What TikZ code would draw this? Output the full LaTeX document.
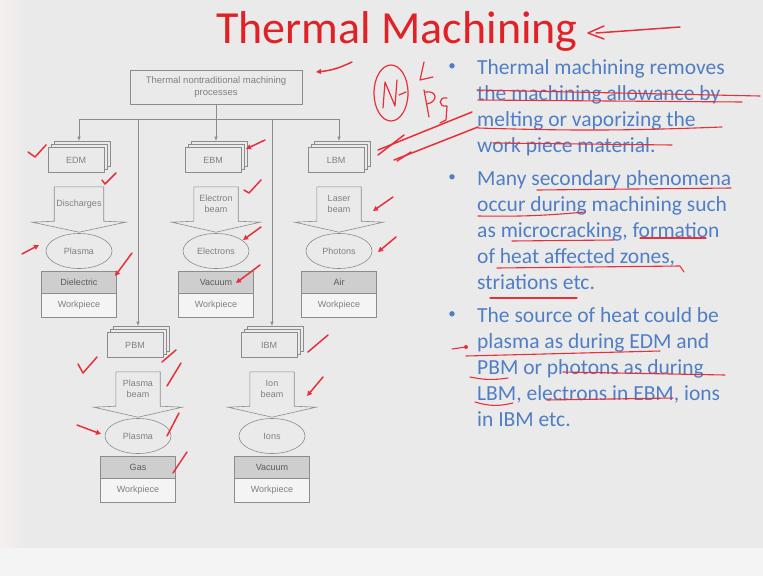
\documentclass[tikz,border=0pt]{standalone}
\usepackage{fontspec}
\setmainfont{Carlito}
\newfontfamily\diagfont{Liberation Sans}
\usetikzlibrary{shapes,calc,shadows,arrows.meta,positioning}

\definecolor{slidebg}{RGB}{234,234,234}
\definecolor{leftbg}{RGB}{244,240,238}
\definecolor{footbg}{RGB}{244,244,244}
\definecolor{titlered}{RGB}{224,34,38}
\definecolor{textblue}{RGB}{80,126,196}
\definecolor{diagline}{RGB}{140,140,140}
\definecolor{diagtext}{RGB}{128,128,128}
\definecolor{mediumfill}{RGB}{206,206,206}
\definecolor{penred}{RGB}{232,48,58}

\tikzset{
  diag/.style={draw=diagline, line width=0.6pt},
  diagfont/.style={font=\diagfont\fontsize{9}{11}\selectfont, text=diagtext},
  procbox/.style={
    diag, diagfont, rectangle,
    fill=slidebg,
    minimum width=172pt,
    minimum height=34pt,
    align=center,
    font=\diagfont\fontsize{9.5}{12}\selectfont
  },
  machbox/.style={
    diag, diagfont, rectangle,
    fill=slidebg,
    minimum width=56pt,
    minimum height=25pt,
    copy shadow={shadow xshift=6pt, shadow yshift=6pt, draw=diagline, fill=slidebg},
    copy shadow={shadow xshift=3pt, shadow yshift=3pt, draw=diagline, fill=slidebg}
  },
  beam/.style={
    diagfont, rectangle,
    minimum width=44pt,
    minimum height=34pt,
    inner sep=2pt,
    align=center
  },
  carrier/.style={
    diag, diagfont, ellipse,
    fill=slidebg,
    minimum width=66pt,
    minimum height=35pt,
    inner sep=0pt
  },
  medium/.style={
    diag, diagfont, rectangle,
    fill=mediumfill,
    text=diagtext!70!black,
    minimum width=75pt,
    minimum height=22pt
  },
  workpiece/.style={
    diag, diagfont, rectangle,
    fill=slidebg!50!white,
    minimum width=75pt,
    minimum height=24pt
  },
  titlenode/.style={
    font=\fontsize{46}{50}\selectfont,
    text=titlered
  },
  bullettext/.style={
    font=\fontsize{21.5}{26}\selectfont,
    text=textblue,
    align=left,
    inner sep=0pt
  },
  bulletdot/.style={
    font=\fontsize{15}{18}\selectfont,
    text=textblue,
    inner sep=0pt
  },
  pen/.style={draw=penred, line width=1.5pt, line cap=round, line join=round},
  penarrow/.style={pen, -{Triangle[length=5pt, width=5pt]}}
}

% outline of a broad down arrow round a beam node
\newcommand{\beamarrow}[1]{%
  \draw[diag] (#1.north west) -- (#1.north east) -- (#1.south east)
    -- ++(22,1) -- ($(#1.south)+(0,11)$) -- ($(#1.south west)+(-22,1)$)
    -- (#1.south west) -- cycle;}

\begin{document}
\begin{tikzpicture}[x=1pt, y=-1pt, >=latex]
  \useasboundingbox (0,0) rectangle (763,576);
  \fill[slidebg] (0,0) rectangle (763,576);
  \shade[left color=leftbg, right color=slidebg] (0,0) rectangle (26,548);
  \fill[footbg] (0,548) rectangle (763,576);

  \node[titlenode] (title) at (397,31) {Thermal Machining};

  %% Process tree
  \node[procbox] (thermal) at (216,87) {Thermal nontraditional machining\\processes};
  \coordinate (dEDM) at (79,119);
  \coordinate (dPBM) at (138,119);
  \coordinate (dIBM) at (272,119);
  \coordinate (dLBM) at (339,119);

  \node[machbox] (edm) at (76,160) {EDM};
  \node[machbox] (ebm) at (213,160) {EBM};
  \node[machbox] (lbm) at (336,160) {LBM};
  \node[machbox] (pbm) at (135,345) {PBM};
  \node[machbox] (ibm) at (269,345) {IBM};

  \draw[diag] (dEDM) -- (dLBM);
  \draw[diag, ->] (thermal.south) -- ($(ebm.north)+(3,-6)$);
  \draw[diag, ->] (dEDM) -- ($(edm.north)+(3,-6)$);
  \draw[diag, ->] (dLBM) -- ($(lbm.north)+(3,-6)$);
  \draw[diag, ->] (dPBM) -- ($(pbm.north)+(3,-6)$);
  \draw[diag, ->] (dIBM) -- ($(ibm.north)+(3,-6)$);

  %% EDM column
  \node[beam, below of=edm, node distance=44pt, xshift=3pt] (edmbeam) {Discharges};
  \beamarrow{edmbeam}
  \node[carrier, below of=edmbeam, node distance=47pt] (edmcarrier) {Plasma};
  \node[medium, below of=edmcarrier, node distance=31pt] (edmmedium) {Dielectric};
  \node[workpiece, below of=edmmedium, node distance=23pt] (edmwork) {Workpiece};

  %% EBM column
  \node[beam, below of=ebm, node distance=44pt, xshift=3pt] (ebmbeam) {Electron\\beam};
  \beamarrow{ebmbeam}
  \node[carrier, below of=ebmbeam, node distance=47pt] (ebmcarrier) {Electrons};
  \node[medium, below of=ebmcarrier, node distance=31pt] (ebmmedium) {Vacuum};
  \node[workpiece, below of=ebmmedium, node distance=23pt] (ebmwork) {Workpiece};

  %% LBM column
  \node[beam, below of=lbm, node distance=44pt, xshift=3pt] (lbmbeam) {Laser\\beam};
  \beamarrow{lbmbeam}
  \node[carrier, below of=lbmbeam, node distance=47pt] (lbmcarrier) {Photons};
  \node[medium, below of=lbmcarrier, node distance=31pt] (lbmmedium) {Air};
  \node[workpiece, below of=lbmmedium, node distance=23pt] (lbmwork) {Workpiece};

  %% PBM column
  \node[beam, below of=pbm, node distance=44pt, xshift=3pt] (pbmbeam) {Plasma\\beam};
  \beamarrow{pbmbeam}
  \node[carrier, below of=pbmbeam, node distance=47pt] (pbmcarrier) {Plasma};
  \node[medium, below of=pbmcarrier, node distance=31pt] (pbmmedium) {Gas};
  \node[workpiece, below of=pbmmedium, node distance=23pt] (pbmwork) {Workpiece};

  %% IBM column
  \node[beam, below of=ibm, node distance=44pt, xshift=3pt] (ibmbeam) {Ion\\beam};
  \beamarrow{ibmbeam}
  \node[carrier, below of=ibmbeam, node distance=47pt] (ibmcarrier) {Ions};
  \node[medium, below of=ibmcarrier, node distance=31pt] (ibmmedium) {Vacuum};
  \node[workpiece, below of=ibmmedium, node distance=23pt] (ibmwork) {Workpiece};

  %% Bullets
  \node[bulletdot] (dot1) at (452,67) {•};
  \node[bullettext, anchor=north west] (point1) at (477,59)
    {Thermal machining removes\\the machining allowance by\\melting or vaporizing the\\work piece material.};
  \node[bulletdot] (dot2) at (452,178) {•};
  \node[bullettext, anchor=north west] (point2) at (477,170)
    {Many secondary phenomena\\occur during machining such\\as microcracking, formation\\of heat affected zones,\\striations etc.};
  \node[bulletdot] (dot3) at (452,315) {•};
  \node[bullettext, anchor=north west] (point3) at (477,307)
    {The source of heat could be\\plasma as during EDM and\\PBM or photons as during\\LBM, electrons in EBM, ions\\in IBM etc.};

  %% Pen marks: title and tree
  \draw[pen] (604,26) -- (588,33) -- (604,39);
  \draw[pen] (596,33) -- (680,27);
  \draw[penarrow] (352,62) to[bend left=10] (316,72);
  \draw[pen, line width=1.2pt] (391,93) ellipse [x radius=17pt, y radius=28pt];
  \draw[pen, line width=1.2pt] (383,108) -- (385,82) -- (395,106) -- (397,80);
  \draw[pen, line width=1.2pt] (399,95) -- (406,92);
  \draw[pen, line width=1.2pt] (424,62) -- (420,80) -- (433,77);
  \draw[pen, line width=1.2pt] (424,90) -- (429,117);
  \draw[pen, line width=1.2pt] (425,92) .. controls (438,90) and (438,102) .. (427,104);
  \draw[pen, line width=1.2pt] (447,98) .. controls (438,96) and (438,108) .. (447,106) -- (446,120) -- (440,123);
  \draw[pen] (378,150) -- (472,112);
  \draw[pen] (394,160) -- (478,127);

  %% Pen marks: bullet text
  \draw[pen, line width=1.1pt] (477,90) -- (760,96);
  \draw[pen, line width=1.1pt] (478,100) -- (742,102);
  \draw[pen, line width=1.1pt] (478,128) to[bend right=2] (722,127);
  \draw[pen, line width=1.1pt] (493,143) -- (672,145);
  \draw[pen, line width=1.1pt] (537,190) -- (731,188);
  \draw[pen, line width=1.1pt] (478,216) to[bend right=3] (585,212);
  \draw[pen, line width=1.1pt] (512,241) -- (614,240);
  \draw[pen, line width=1.1pt] (640,238) -- (706,238);
  \draw[pen, line width=1.1pt] (497,268) -- (680,266) -- (684,272);
  \draw[pen, line width=1.1pt] (490,298) -- (577,298);
  \draw[pen, line width=1.1pt] (452,349) -- (466,347);
  \fill[penred] (466,347) circle [radius=2pt];
  \draw[pen, line width=1.1pt] (466,356) -- (660,351);
  \draw[pen, line width=1.1pt] (470,377) to[bend right=10] (508,378);
  \draw[pen, line width=1.1pt] (563,372) -- (725,375);
  \draw[pen, line width=1.1pt] (475,402) to[bend right=15] (513,403);
  \draw[pen, line width=1.1pt] (547,400) -- (673,398);

  %% Pen marks: ticks on the tree
  \draw[pen] (28,152) -- (35,157) -- (46,145);
  \draw[pen] (102,180) -- (105,184) -- (116,173);
  \draw[penarrow] (22,254) -- (39,245);
  \draw[penarrow] (132,253) -- (115,276);
  \draw[penarrow] (265,140) -- (246,149);
  \draw[pen] (244,190) -- (249,193) -- (261,180);
  \draw[penarrow] (261,227) -- (243,240);
  \draw[penarrow] (260,265) -- (236,283);
  \draw[pen] (378,155) -- (404,135);
  \draw[pen] (397,161) -- (411,152);
  \draw[penarrow] (393,197) -- (373,211);
  \draw[penarrow] (396,237) -- (378,252);
  \draw[pen] (78,364) -- (83,373) -- (97,357);
  \draw[pen] (162,362) -- (176,350);
  \draw[pen] (167,386) -- (181,363);
  \draw[penarrow] (77,425) -- (101,434);
  \draw[pen] (167,436) -- (179,413);
  \draw[pen] (173,473) -- (187,452);
  \draw[pen] (308,352) -- (328,335);
  \draw[penarrow] (323,377) -- (307,396);
\end{tikzpicture}
\end{document}
